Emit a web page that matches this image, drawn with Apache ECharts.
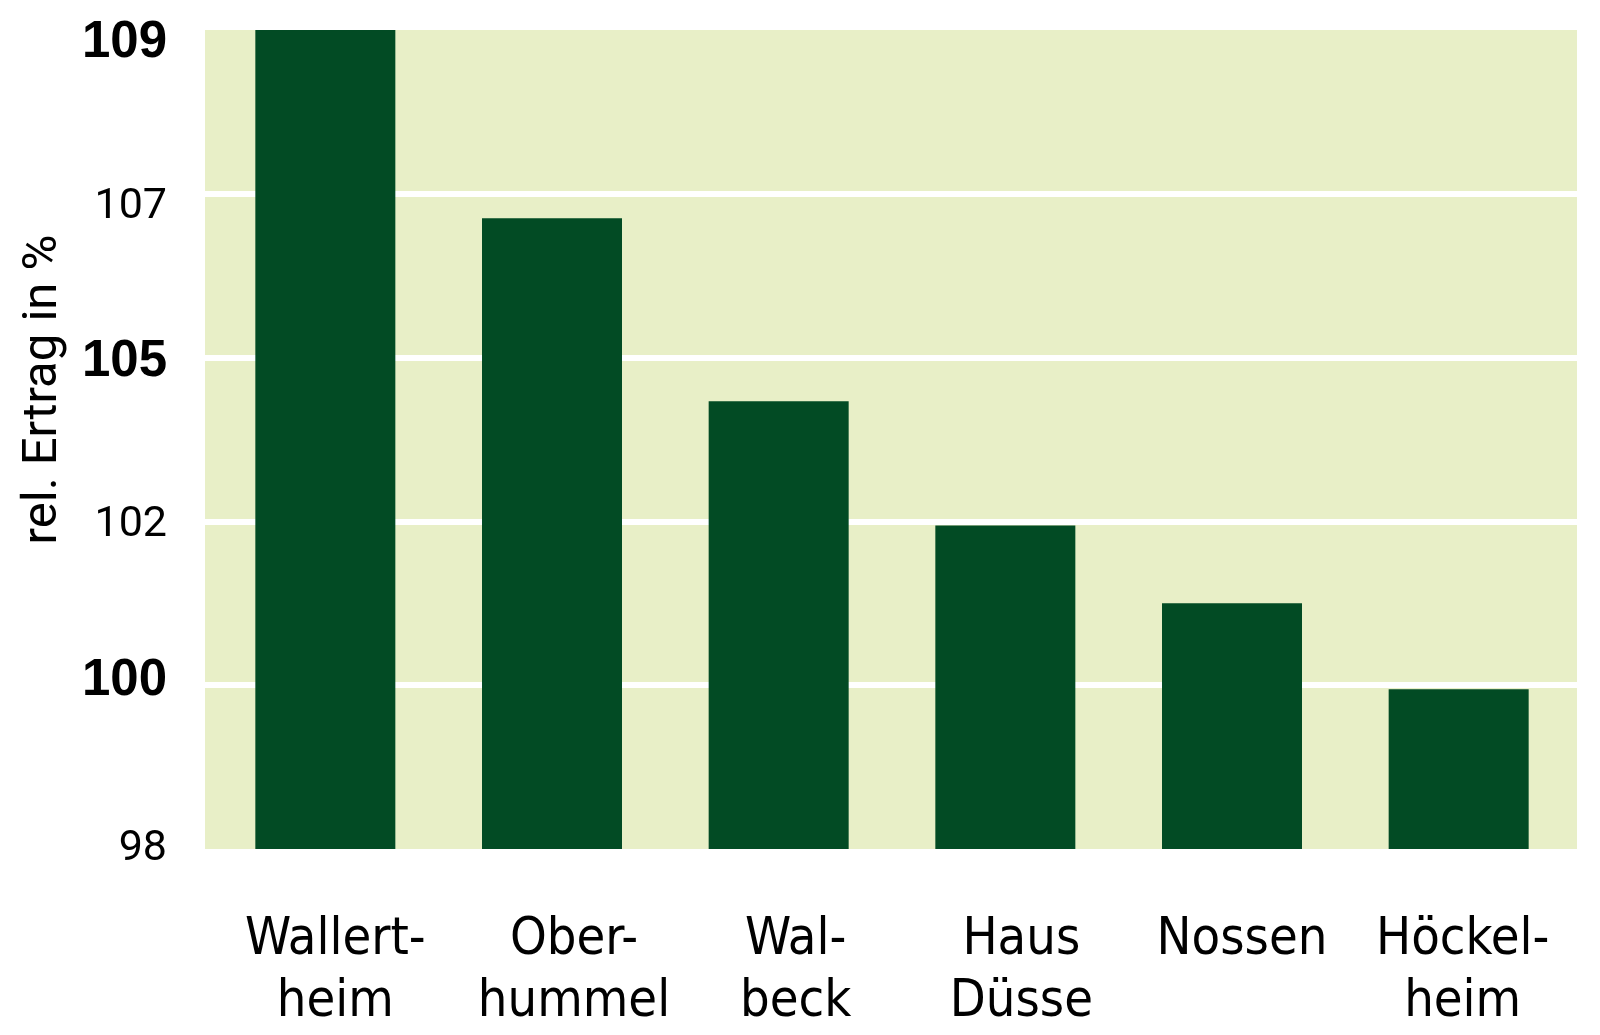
<!DOCTYPE html>
<html>
<head>
<meta charset="utf-8">
<script src="https://cdn.jsdelivr.net/npm/echarts@6/dist/echarts.min.js"></script>
<style>
html,body{margin:0;padding:0;background:#fff;}
#chart{width:1600px;height:1035px;}
</style>
</head>
<body>
<div id="chart"></div>
<script>
// ---- data ----
const categories = ['Wallert-\nheim', 'Ober-\nhummel', 'Wal-\nbeck', 'Haus\nDüsse', 'Nossen', 'Höckel-\nheim'];
const relYield = [109.0, 106.7, 104.2, 101.95, 101.0, 99.95];
const tickLabels = [98, 100, 102, 105, 107, 109];

// ---- styling (not data) ----
const boldTicks = [109, 105, 100];
const xLabelShift = [10, 22, 17, 16, 10, 4];      // px right of bar centre
const yLabelShift = [0, -4, 4, 4, 13, 13];        // px below tick

// ticks are drawn evenly spaced in the reference; map a value onto that tick scale
function toTickScale(v) {
  for (let i = 0; i < tickLabels.length - 1; i++) {
    const a = tickLabels[i], b = tickLabels[i + 1];
    if (v <= b || i === tickLabels.length - 2) return i + (v - a) / (b - a);
  }
}

const rich = {};
tickLabels.forEach(function (t, i) {
  const s = yLabelShift[i];
  const bold = boldTicks.indexOf(t) >= 0;
  rich['s' + i] = {
    fontFamily: bold ? "'Liberation Sans', Arial, sans-serif" : 'Roboto',
    fontWeight: bold ? 'bold' : 'normal',
    fontSize: bold ? 51 : 43,
    color: '#000',
    padding: s >= 0 ? [2 * s, 0, 0, 0] : [0, 0, -2 * s, 0]
  };
});

const xData = categories.map(function (c, i) {
  return { value: c, textStyle: { padding: [0, 0, 0, 2 * xLabelShift[i]] } };
});

const chart = echarts.init(document.getElementById('chart'), null, { renderer: 'canvas' });
chart.setOption({
  animation: false,
  grid: [
    { left: 205, right: 23, top: 30, bottom: 186, show: true, backgroundColor: '#e8efc7', borderWidth: 0 },
    { left: 212, right: 28, top: 30, bottom: 186, show: false }
  ],
  xAxis: [
    { gridIndex: 0, type: 'value', min: 0, max: 1, show: false },
    {
      gridIndex: 1,
      type: 'category',
      data: xData,
      axisLine: { show: false },
      axisTick: { show: false },
      axisLabel: {
        margin: 60,
        fontFamily: "'DejaVu Sans Condensed', sans-serif",
        fontSize: 52,
        lineHeight: 62,
        color: '#000',
        interval: 0
      }
    }
  ],
  yAxis: [
    {
      gridIndex: 0,
      type: 'value',
      min: 0, max: tickLabels.length - 1, interval: 1,
      name: 'rel. Ertrag in %',
      nameLocation: 'middle',
      nameRotate: 90,
      nameGap: 137,
      nameTextStyle: {
        fontFamily: 'Roboto', fontSize: 49, color: '#000',
        padding: [0, 0, 0, 100]
      },
      axisLine: { show: false },
      axisTick: { show: false },
      splitLine: {
        show: true, showMinLine: false, showMaxLine: false,
        lineStyle: { color: '#ffffff', width: 6 }
      },
      axisLabel: {
        margin: 38,
        formatter: function (v) {
          const i = Math.round(v);
          return '{s' + i + '|' + tickLabels[i] + '}';
        },
        rich: rich
      }
    },
    { gridIndex: 1, type: 'value', min: 0, max: tickLabels.length - 1, interval: 1, show: false }
  ],
  series: [{
    type: 'bar',
    xAxisIndex: 1,
    yAxisIndex: 1,
    data: relYield.map(toTickScale),
    barWidth: 140,
    itemStyle: { color: '#024b24' }
  }]
});
</script>
</body>
</html>
